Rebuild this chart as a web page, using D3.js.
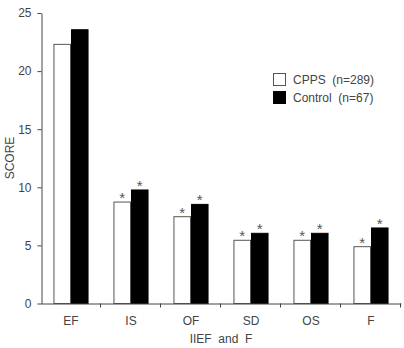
<!DOCTYPE html>
<html lang="en">
  <head>
    <meta charset="UTF-8" />
    <title>IIEF and F scores</title>
    <script src="https://d3js.org/d3.v7.min.js"></script>
    <style>
      body {
        margin: 0;
        background: #fff;
        font-family: "Liberation Sans", Arial, sans-serif;
      }
      .axis text {
        font-family: "Liberation Sans", Arial, sans-serif;
        font-size: 12px;
        fill: #444;
      }
      .axis path,
      .axis line {
        stroke: #444;
      }
    </style>
  </head>
  <body>
    <svg id="chart" width="404" height="348"></svg>
    <script>
      // Data
      const categories = ["EF", "IS", "OF", "SD", "OS", "F"];
      const series = ["CPPS  (n=289)", "Control  (n=67)"];
      const cppsValues = [22.3, 8.73, 7.47, 5.44, 5.44, 4.89];
      const controlValues = [23.56, 9.77, 8.53, 6.04, 6.04, 6.5];
      const cppsStar = [false, true, true, true, true, true];
      const controlStar = [false, true, true, true, true, true];
      const yTicks = [0, 5, 10, 15, 20, 25];

      const svg = d3.select("#chart");

      const x0 = d3.scaleBand().domain(categories).range([41, 401]).padding(0);
      const x1 = d3
        .scaleBand()
        .domain([0, 1])
        .range([0, x0.bandwidth()])
        .paddingInner(0)
        .paddingOuter(0.71);
      const y = d3.scaleLinear().domain([0, 25]).range([303.5, 13]);

      const fills = ["#fff", "#000"];
      const strokes = ["#555", "#000"];

      const rows = categories.map((c, i) => ({
        cat: c,
        vals: [
          { s: 0, v: cppsValues[i], star: cppsStar[i] },
          { s: 1, v: controlValues[i], star: controlStar[i] },
        ],
      }));

      // Bars
      const groups = svg
        .selectAll(".grp")
        .data(rows)
        .join("g")
        .attr("class", "grp")
        .attr("transform", (d) => `translate(${x0(d.cat)},0)`);

      groups
        .selectAll("rect")
        .data((d) => d.vals)
        .join("rect")
        .attr("x", (d) => x1(d.s) + 0.5)
        .attr("y", (d) => y(d.v))
        .attr("width", x1.bandwidth() - 1)
        .attr("height", (d) => y(0) - y(d.v))
        .attr("fill", (d) => fills[d.s])
        .attr("stroke", (d) => strokes[d.s])
        .attr("stroke-width", 1);

      groups
        .selectAll(".star")
        .data((d) => d.vals.filter((v) => v.star))
        .join("text")
        .attr("class", "star")
        .attr("x", (d) => x1(d.s) + x1.bandwidth() / 2)
        .attr("y", (d) => y(d.v) + 1)
        .attr("text-anchor", "middle")
        .attr("font-size", 15)
        .attr("fill", "#555")
        .text("*");

      // Y axis
      svg
        .append("g")
        .attr("class", "axis")
        .attr("transform", "translate(41.5,0)")
        .call(d3.axisLeft(y).tickValues(yTicks).tickSize(4).tickSizeOuter(0).tickPadding(6));

      // X axis: labels centered in bands, ticks at band boundaries
      const xAxis = svg
        .append("g")
        .attr("class", "axis")
        .attr("transform", `translate(0,${y(0)})`)
        .call(d3.axisBottom(x0).tickSize(0).tickSizeOuter(0).tickPadding(13));

      xAxis
        .selectAll(".sep")
        .data(categories)
        .join("line")
        .attr("class", "sep")
        .attr("x1", (d) => x0(d) + x0.bandwidth() - 0.5)
        .attr("x2", (d) => x0(d) + x0.bandwidth() - 0.5)
        .attr("y1", 0)
        .attr("y2", 4);

      // Axis titles
      svg
        .append("text")
        .attr("x", x0.range()[0] + (x0.range()[1] - x0.range()[0]) / 2)
        .attr("y", 343)
        .attr("text-anchor", "middle")
        .attr("font-size", 12)
        .attr("fill", "#444")
        .attr("xml:space", "preserve")
        .text("IIEF  and  F");

      svg
        .append("text")
        .attr("transform", "translate(14,158) rotate(-90)")
        .attr("text-anchor", "middle")
        .attr("font-size", 12)
        .attr("fill", "#444")
        .text("SCORE");

      // Legend
      const legend = svg
        .selectAll(".legend")
        .data(series)
        .join("g")
        .attr("class", "legend")
        .attr("transform", (d, i) => `translate(273,${73 + i * 18})`);

      legend
        .append("rect")
        .attr("x", 0.5)
        .attr("y", 0.5)
        .attr("width", 12)
        .attr("height", 12)
        .attr("fill", (d, i) => fills[i])
        .attr("stroke", (d, i) => strokes[i]);

      legend
        .append("text")
        .attr("x", 20)
        .attr("y", 11)
        .attr("font-size", 12)
        .attr("fill", "#444")
        .attr("xml:space", "preserve")
        .style("white-space", "pre")
        .text((d) => d);
    </script>
  </body>
</html>
